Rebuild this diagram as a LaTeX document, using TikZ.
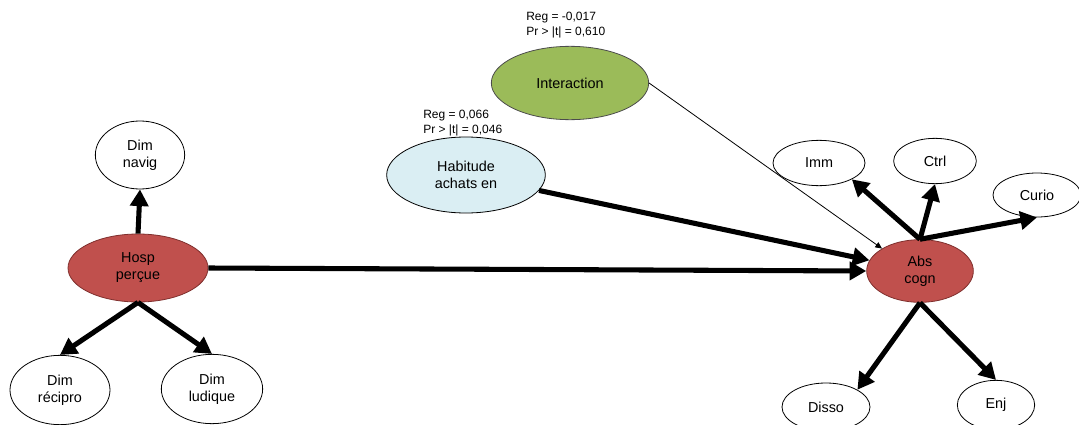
\documentclass[tikz,border=0pt]{standalone}
\usepackage{fontspec}
\setmainfont{Liberation Sans}
\usepackage{tikz}
\usetikzlibrary{arrows.meta, shapes.geometric, positioning}
\definecolor{hospred}{HTML}{C0504D}
\definecolor{hospline}{HTML}{7F2F2D}
\definecolor{intergreen}{HTML}{9BBB59}
\definecolor{habblue}{HTML}{DAEEF3}

\begin{document}
\begin{tikzpicture}[
    x=0.75pt, y=-0.75pt,
    latent/.style={ellipse, draw=black, line width=0.6pt, fill=white, inner sep=0pt, align=center, font=\fontsize{10.8}{12.8}\selectfont},
    core/.style={latent, fill=hospred, draw=hospline},
    stat/.style={anchor=north west, align=left, inner sep=0pt, font=\fontsize{9}{10.8}\selectfont},
    fat/.style={->, line width=3.8pt},
    slim/.style={-{Triangle[length=5pt, width=4.5pt]}, line width=0.6pt},
    >={Triangle[length=12.5pt, width=13.5pt]}
]
\useasboundingbox (0,0) rectangle (1079,425);
% measured model
\node[core, minimum width=105pt, minimum height=51pt] (hosp) at (138,268) {Hosp\\perçue};
\node[latent, minimum width=67pt, minimum height=51pt] (navig) at (140,155) {Dim\\navig};
\node[latent, minimum width=75pt, minimum height=52pt] (recipro) at (60,390) {Dim\\récipro};
\node[latent, minimum width=76pt, minimum height=52pt] (ludique) at (212,389) {Dim\\ludique};
\node[latent, fill=habblue, minimum width=119pt, minimum height=57pt] (habit) at (466,175) {Habitude\\achats en};
\node[latent, fill=intergreen, draw=black!70, minimum width=118pt, minimum height=55pt] (inter) at (570,83) {Interaction};
\node[core, minimum width=80pt, minimum height=47pt] (abs) at (920,271) {Abs\\cogn};
\node[latent, minimum width=69pt, minimum height=34pt] (imm) at (819,163) {Imm};
\node[latent, minimum width=62pt, minimum height=34pt] (ctrl) at (935,161) {Ctrl};
\node[latent, minimum width=66pt, minimum height=33pt] (curio) at (1037,195) {Curio};
\node[latent, minimum width=66pt, minimum height=36pt] (disso) at (826,407) {Disso};
\node[latent, minimum width=58pt, minimum height=37pt] (enj) at (996,405) {Enj};
% estimates
\node[stat] (stinter) at (526,12) {Reg = -0,017\\Pr > |t| = 0,610};
\node[stat] (sthabit) at (423,110) {Reg = 0,066\\Pr > |t| = 0,046};
% paths
\draw[fat] (hosp.north) -- (navig.south);
\draw[fat] (hosp.south) -- (recipro.north);
\draw[fat] (hosp.south) -- (ludique.north);
\draw[fat] (hosp.east) -- (abs.west);
\draw[fat] (habit) -- (abs);
\draw[slim] (inter.east) -- (abs.north west);
\draw[fat] (abs.north) -- (imm.south east);
\draw[fat] (abs.north) -- (ctrl.south);
\draw[fat] (abs.north) -- (curio.south);
\draw[fat] (abs.south) -- (disso.north east);
\draw[fat] (abs.south) -- (enj.north);
\end{tikzpicture}
\end{document}
